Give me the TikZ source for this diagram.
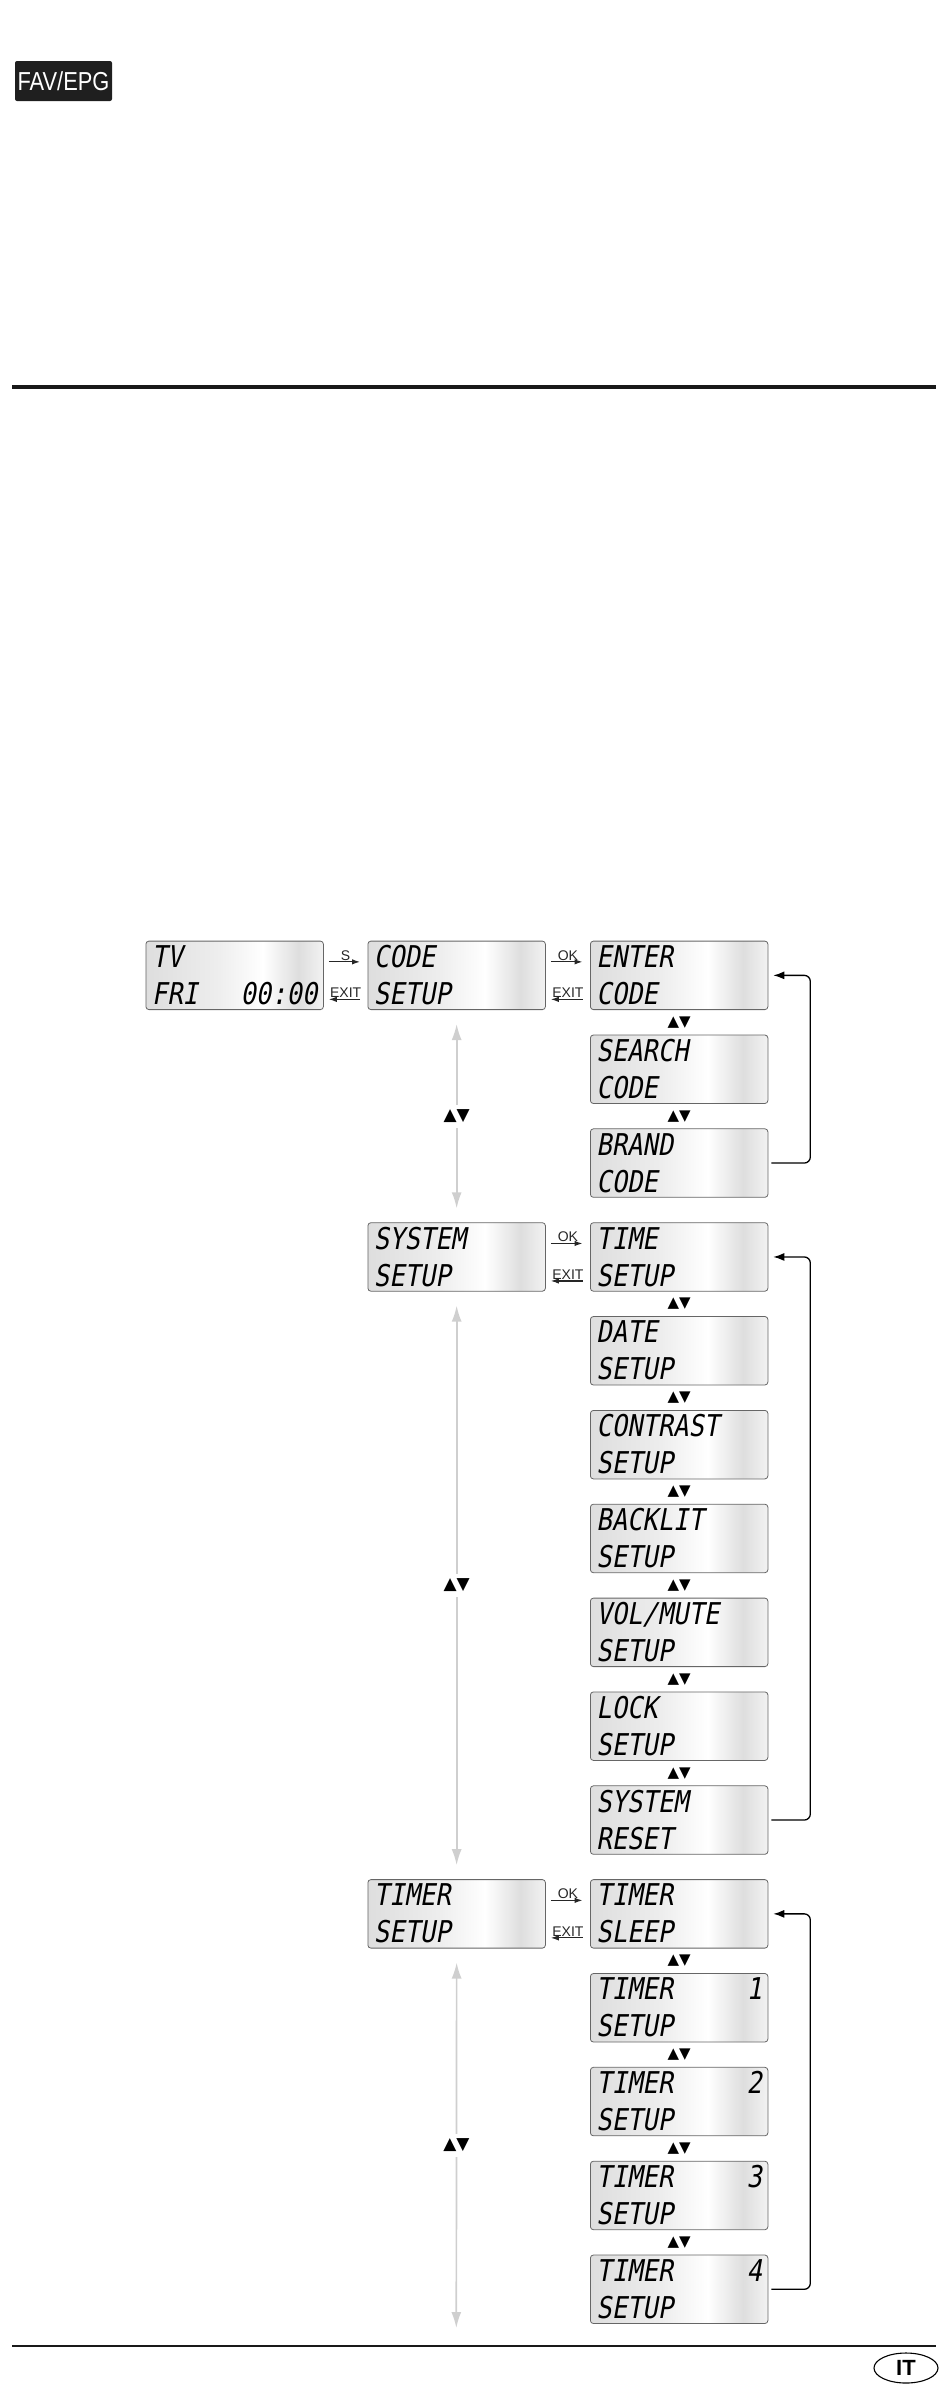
\documentclass[tikz,border=0pt]{standalone}
\usepackage{fontspec}
\setmainfont{Liberation Sans}
\newfontfamily\lcdfont{DejaVu Sans Mono}[FakeStretch=0.85,FakeSlant=0.18]
\newfontfamily\symfont{DejaVu Sans}
\newfontfamily\keyfont{Liberation Sans}[FakeStretch=0.84]
\usetikzlibrary{arrows.meta,calc,shapes.geometric}
\pgfdeclarehorizontalshading{lcdshade}{100bp}{color(0bp)=(black!13); color(25bp)=(black!13); color(45bp)=(black!7); color(58bp)=(white); color(68bp)=(black!13); color(75bp)=(black!5); color(100bp)=(black!5)}

\begin{document}
\begin{tikzpicture}[x=1pt, y=-1pt,
    lcd/.style={draw=black!60, line width=0.8pt, rounded corners=3pt,
      shading=lcdshade, anchor=north west, minimum width=177.5pt,
      text width=165.5pt, inner xsep=6pt, inner ysep=0pt, align=left,
      text height=26.3pt, text depth=42.2pt,
      font=\lcdfont\fontsize{30}{37}\selectfont},
    keylabel/.style={above, inner sep=1pt, font=\fontsize{14}{15}\selectfont},
    fwd/.style={black!85, line width=1.2pt, -{Latex[length=8pt,width=5.5pt]},
      shorten <=5pt, shorten >=7.5pt},
    bwd/.style={black!85, line width=1.2pt, -{Latex[length=8pt,width=5.5pt]},
      shorten <=7.5pt, shorten >=5pt},
    navarrow/.style={black!19, line width=1.7pt,
      {Latex[length=16pt,width=10pt]}-{Latex[length=16pt,width=10pt]}},
    navlabel/.style={fill=white, inner xsep=2pt, inner ysep=5pt, text=black,
      font=\symfont\fontsize{17}{17}\selectfont},
    updown/.style={inner sep=0pt, font=\symfont\fontsize{15}{15}\selectfont},
    backloop/.style={black, line width=1.3pt, rounded corners=6pt,
      -{Latex[length=11pt,width=8pt]}},
    favkey/.style={fill=black!88, rounded corners=2pt, minimum width=97pt,
      minimum height=40pt, inner sep=0pt, text=white,
      font=\keyfont\fontsize{26}{26}\selectfont}
  ]
  \useasboundingbox (0,0) rectangle (950,2396);

  % page head
  \node[favkey] (fav) at (63.5,81) {FAV/EPG};
  \draw[black!90, line width=4pt] (12,387) -- (936,387);

  % main menu
  \node[lcd] (tv) at (145.5,940.7) {TV\\FRI\hfill 00:00};
  \node[lcd] (code) at (367.5,940.7) {CODE\\SETUP};
  \node[lcd] (system) at (367.5,1222.3) {SYSTEM\\SETUP};
  \node[lcd] (timer) at (367.5,1879.2) {TIMER\\SETUP};

  % sub menus
  \node[lcd] (enter) at (590,940.7) {ENTER\\CODE};
  \node[lcd] (search) at (590,1034.6) {SEARCH\\CODE};
  \node[lcd] (brand) at (590,1128.4) {BRAND\\CODE};
  \node[lcd] (time) at (590,1222.3) {TIME\\SETUP};
  \node[lcd] (date) at (590,1316.1) {DATE\\SETUP};
  \node[lcd] (contrast) at (590,1410.0) {CONTRAST\\SETUP};
  \node[lcd] (backlit) at (590,1503.8) {BACKLIT\\SETUP};
  \node[lcd] (volmute) at (590,1597.7) {VOL/MUTE\\SETUP};
  \node[lcd] (lock) at (590,1691.5) {LOCK\\SETUP};
  \node[lcd] (sysreset) at (590,1785.4) {SYSTEM\\RESET};
  \node[lcd] (sleep) at (590,1879.2) {TIMER\\SLEEP};
  \node[lcd] (timerone) at (590,1973.1) {TIMER\hfill 1\\SETUP};
  \node[lcd] (timertwo) at (590,2066.9) {TIMER\hfill 2\\SETUP};
  \node[lcd] (timerthree) at (590,2160.8) {TIMER\hfill 3\\SETUP};
  \node[lcd] (timerfour) at (590,2254.6) {TIMER\hfill 4\\SETUP};

  % keys between screens
  \draw[fwd] ([yshift=13.5pt]tv.east) -- node[keylabel] {S} ([yshift=13.5pt]code.west);
  \draw[bwd] ([yshift=-24pt]code.west) -- node[keylabel] {EXIT} ([yshift=-24pt]tv.east);
  \draw[fwd] ([yshift=13.5pt]code.east) -- node[keylabel] {OK} ([yshift=13.5pt]enter.west);
  \draw[bwd] ([yshift=-24pt]enter.west) -- node[keylabel] {EXIT} ([yshift=-24pt]code.east);
  \draw[fwd] ([yshift=13.5pt]system.east) -- node[keylabel] {OK} ([yshift=13.5pt]time.west);
  \draw[bwd] ([yshift=-24pt]time.west) -- node[keylabel] {EXIT} ([yshift=-24pt]system.east);
  \draw[fwd] ([yshift=13.5pt]timer.east) -- node[keylabel] {OK} ([yshift=13.5pt]sleep.west);
  \draw[bwd] ([yshift=-24pt]sleep.west) -- node[keylabel] {EXIT} ([yshift=-24pt]timer.east);

  % up/down in the main menu
  \coordinate (navend) at (456.3,2328);
  \draw[navarrow] ([yshift=-14pt]code.south) -- node[navlabel] (navone) {▲▼} ([yshift=14pt]system.north);
  \draw[navarrow] ([yshift=-14pt]system.south) -- node[navlabel] (navtwo) {▲▼} ([yshift=14pt]timer.north);
  \draw[navarrow] ([yshift=-14pt]timer.south) -- node[navlabel] (navthree) {▲▼} (navend);

  % up/down in the sub menus
  \node[updown] (udone) at ($(enter.south)!.5!(search.north)$) {▲▼};
  \node[updown] (udtwo) at ($(search.south)!.5!(brand.north)$) {▲▼};
  \node[updown] (udthree) at ($(time.south)!.5!(date.north)$) {▲▼};
  \node[updown] (udfour) at ($(date.south)!.5!(contrast.north)$) {▲▼};
  \node[updown] (udfive) at ($(contrast.south)!.5!(backlit.north)$) {▲▼};
  \node[updown] (udsix) at ($(backlit.south)!.5!(volmute.north)$) {▲▼};
  \node[updown] (udseven) at ($(volmute.south)!.5!(lock.north)$) {▲▼};
  \node[updown] (udeight) at ($(lock.south)!.5!(sysreset.north)$) {▲▼};
  \node[updown] (udnine) at ($(sleep.south)!.5!(timerone.north)$) {▲▼};
  \node[updown] (udten) at ($(timerone.south)!.5!(timertwo.north)$) {▲▼};
  \node[updown] (udeleven) at ($(timertwo.south)!.5!(timerthree.north)$) {▲▼};
  \node[updown] (udtwelve) at ($(timerthree.south)!.5!(timerfour.north)$) {▲▼};

  % back to the first entry
  \draw[backloop] ([xshift=3pt]brand.east) -- ++(39,0) |- ([xshift=5pt]enter.east);
  \draw[backloop] ([xshift=3pt]sysreset.east) -- ++(39,0) |- ([xshift=5pt]time.east);
  \draw[backloop] ([xshift=3pt]timerfour.east) -- ++(39,0) |- ([xshift=5pt]sleep.east);

  % page foot
  \draw[black!90, line width=2pt] (12,2346) -- (936,2346);
  \node[draw, ellipse, line width=1.1pt, minimum width=64pt, minimum height=30pt,
    inner sep=0pt, font=\bfseries\fontsize{22}{22}\selectfont] (lang) at (906,2368) {IT};
\end{tikzpicture}
\end{document}
